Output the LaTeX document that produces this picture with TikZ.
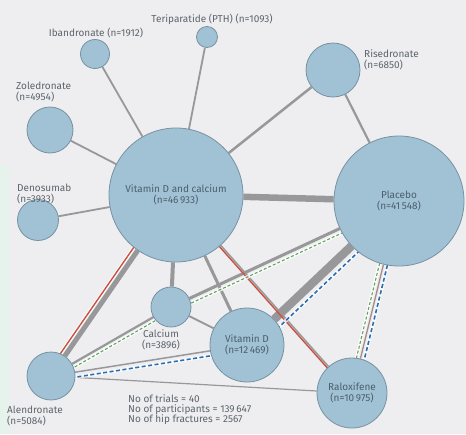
\documentclass[tikz,border=0pt]{standalone}
\usepackage{fontspec}
\setmainfont{Fira Sans}
\usetikzlibrary{calc,backgrounds}

\definecolor{bgcol}{RGB}{238,238,240}
\definecolor{greenbg}{RGB}{230,242,236}
\definecolor{nodefill}{RGB}{160,194,212}
\definecolor{nodeline}{RGB}{118,146,162}
\definecolor{edgegrey}{RGB}{152,152,154}
\definecolor{txtcol}{RGB}{92,100,108}
\definecolor{incirc}{RGB}{76,94,110}
\definecolor{redpath}{RGB}{200,82,66}
\definecolor{bluepath}{RGB}{42,110,178}
\definecolor{greenpath}{RGB}{96,164,96}
\definecolor{brownline}{RGB}{168,140,136}

\begin{document}
\begin{tikzpicture}[x=1pt,y=-1pt,
		drug node/.style={circle,draw=nodeline,fill=nodefill,line width=0.8pt,inner sep=0pt,
			text=incirc,align=center,font=\fontsize{10}{11}\selectfont},
		drug label/.style={text=txtcol,align=left,inner sep=0pt,font=\fontsize{10}{11}\selectfont},
		grey edge/.style={draw=edgegrey},
		halo/.style={draw=white,opacity=0.8,line width=3.5pt},
		red path/.style={draw=redpath,line width=1.4pt},
		blue path/.style={draw=bluepath,line width=1.6pt,dash pattern=on 4pt off 2.5pt},
		green path/.style={draw=greenpath,line width=1.1pt,dash pattern=on 3pt off 2pt}]

	\useasboundingbox (0,0) rectangle (466,434);

	% treatments
	\node[drug node,minimum size=134pt] (vdc) at (176,195) {Vitamin D and calcium\\(n=46\,933)};
	\node[drug node,minimum size=130pt] (plac) at (399,201) {Placebo\\(n=41\,548)};
	\node[drug node,minimum size=54pt] (ris) at (333,70) {};
	\node[drug node,minimum size=21pt] (ter) at (207,37) {};
	\node[drug node,minimum size=29pt] (iba) at (95,54) {};
	\node[drug node,minimum size=46pt] (zol) at (50,130) {};
	\node[drug node,minimum size=41pt] (den) at (38,220) {};
	\node[drug node,minimum size=40pt] (cal) at (171,307) {};
	\node[drug node,minimum size=74pt] (vitd) at (247,345) {Vitamin D\\(n=12\,469)};
	\node[drug node,minimum size=70pt] (ral) at (352,393) {Raloxifene\\(n=10\,975)};
	\node[drug node,minimum size=48pt] (alen) at (51,376) {};

	% labels
	\node[drug label,anchor=base] (terlab) at (212,22) {Teriparatide (PTH) (n=1093)};
	\node[drug label,anchor=base] (ibalab) at (96,36) {Ibandronate (n=1912)};
	\node[drug label,anchor=north west] (zollab) at (16,82) {Zoledronate\\(n=4954)};
	\node[drug label,anchor=north west] (denlab) at (17,184) {Denosumab\\(n=3933)};
	\node[drug label,anchor=north west] (rislab) at (364,49) {Risedronate\\(n=6850)};
	\node[drug label,anchor=north,align=center] (callab) at (161,329) {Calcium\\(n=3896)};
	\node[drug label,anchor=north west] (alenlab) at (7,406) {Alendronate\\(n=5084)};
	\node[drug label,anchor=north west,font=\fontsize{10}{10.2}\selectfont] (stats) at (128,394)
		{No of trials = 40\\No of participants = 139\,647\\No of hip fractures = 2567};

	\begin{pgfonlayer}{background}
		\fill[bgcol] (0,0) rectangle (466,434);
		\fill[greenbg] (0,165) -- (9,165) -- (9,434) -- (0,434) -- cycle;

		% comparisons
		\path[grey edge,line width=1.8pt] (ter) edge (vdc) (iba) edge (vdc)
			(zol) edge (vdc) (den) edge (vdc);
		\path[grey edge,line width=2.5pt] (ris) edge (vdc);
		\path[grey edge,line width=2.2pt] (ris) edge (plac);
		\path[grey edge,line width=6.5pt] (vdc) edge (plac);
		\path[grey edge,line width=5pt] (vdc) edge (alen);
		\path[grey edge,line width=4pt] (vdc) edge (cal);
		\path[grey edge,line width=3pt] (vdc) edge (vitd);
		\path[grey edge,line width=1.5pt] (vdc) edge (ral);
		\path[grey edge,line width=2pt] (cal) edge (vitd);
		\path[grey edge,line width=3pt] (cal) edge (plac);
		\path[grey edge,line width=2.2pt] (alen) edge (cal);
		\path[grey edge,line width=1.5pt] (alen) edge (vitd);
		\path[grey edge,line width=1.2pt] (alen) edge (ral);
		\path[grey edge,line width=8.5pt] (vitd) edge (plac);
		\path[draw=brownline,line width=1.3pt] (plac) edge (ral);

		% red loop
		\draw[halo] ($(alen)!5pt!90:(vdc)$) -- ($(vdc)!5pt!-90:(alen)$);
		\draw[red path] ($(alen)!5pt!90:(vdc)$) -- ($(vdc)!5pt!-90:(alen)$);
		\draw[red path] ($(vdc)!1.8pt!-90:(ral)$) -- ($(ral)!1.8pt!90:(vdc)$);

		% green loop
		\draw[halo] ($(alen)!4pt!-90:(cal)$) -- ($(cal)!4pt!90:(alen)$);
		\draw[green path] ($(alen)!4pt!-90:(cal)$) -- ($(cal)!4pt!90:(alen)$);
		\draw[halo] ($(cal)!5pt!-90:(plac)$) -- ($(plac)!5pt!90:(cal)$);
		\draw[green path] ($(cal)!5pt!-90:(plac)$) -- ($(plac)!5pt!90:(cal)$);
		\draw[halo] ($(plac)!4pt!-90:(ral)$) -- ($(ral)!4pt!90:(plac)$);
		\draw[green path] ($(plac)!4pt!-90:(ral)$) -- ($(ral)!4pt!90:(plac)$);

		% blue loop
		\draw[halo] ($(alen)!5pt!-90:(vitd)$) -- ($(vitd)!5pt!90:(alen)$);
		\draw[blue path] ($(alen)!5pt!-90:(vitd)$) -- ($(vitd)!5pt!90:(alen)$);
		\draw[halo] ($(vitd)!9pt!-90:(plac)$) -- ($(plac)!9pt!90:(vitd)$);
		\draw[blue path] ($(vitd)!9pt!-90:(plac)$) -- ($(plac)!9pt!90:(vitd)$);
		\draw[halo] ($(plac)!4pt!90:(ral)$) -- ($(ral)!4pt!-90:(plac)$);
		\draw[blue path] ($(plac)!4pt!90:(ral)$) -- ($(ral)!4pt!-90:(plac)$);
	\end{pgfonlayer}
\end{tikzpicture}
\end{document}
